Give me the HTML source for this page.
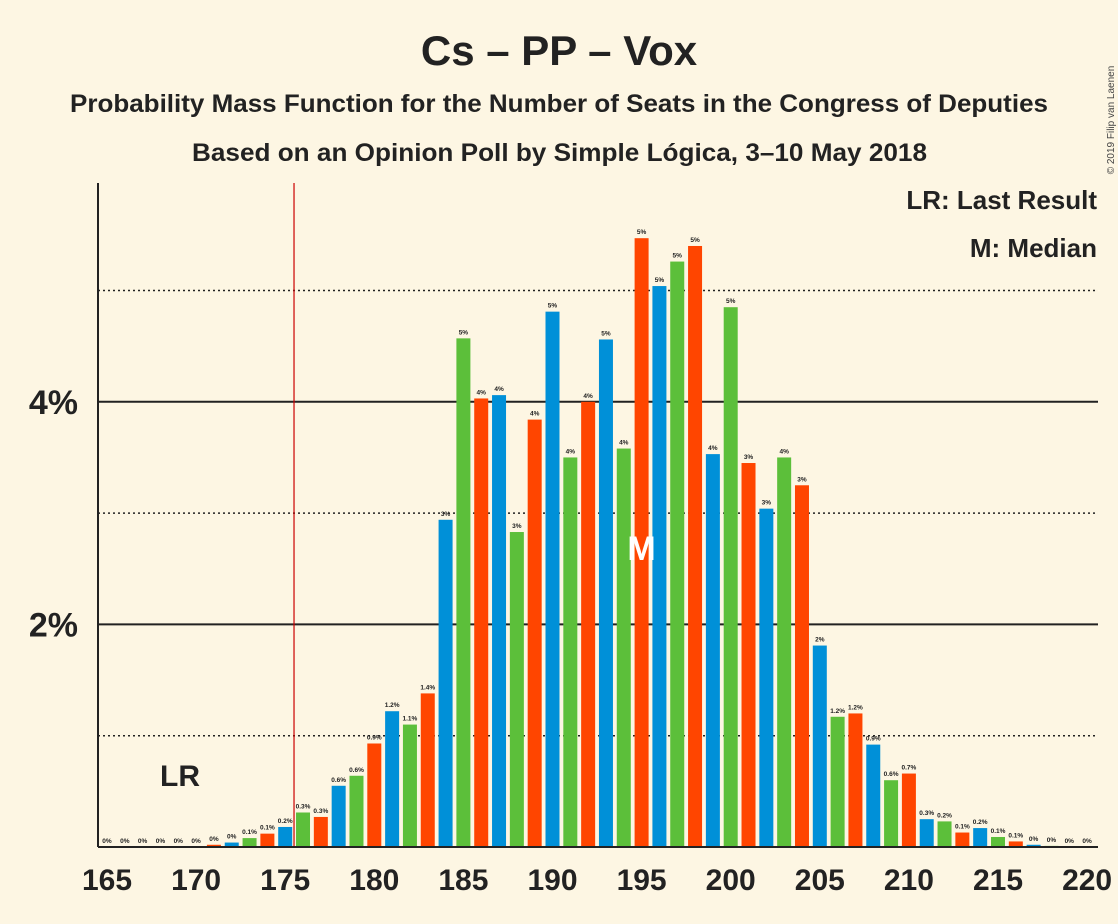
<!DOCTYPE html>
<html><head><meta charset="utf-8"><style>
body{margin:0;background:#fdf6e3;}
svg{display:block;font-family:"Liberation Sans",sans-serif;}
</style></head><body>
<svg width="1118" height="924" viewBox="0 0 1118 924" xmlns="http://www.w3.org/2000/svg">
<rect width="1118" height="924" fill="#fdf6e3"/>
<text x="559" y="65" text-anchor="middle" font-size="42" font-weight="bold" fill="#222">Cs – PP – Vox</text>
<text x="70" y="112" font-size="25" font-weight="bold" fill="#222" textLength="978" lengthAdjust="spacingAndGlyphs">Probability Mass Function for the Number of Seats in the Congress of Deputies</text>
<text x="192" y="161" font-size="25" font-weight="bold" fill="#222" textLength="735" lengthAdjust="spacingAndGlyphs">Based on an Opinion Poll by Simple Lógica, 3–10 May 2018</text>
<text transform="translate(1114,120) rotate(-90)" text-anchor="middle" font-size="10" fill="#444">© 2019 Filip van Laenen</text>
<g id="grid"></g>
<g id="bars"></g>
<g id="axes"></g>
<text x="1097" y="209" text-anchor="end" font-size="26" font-weight="bold" fill="#222">LR: Last Result</text>
<text x="1097" y="257" text-anchor="end" font-size="26" font-weight="bold" fill="#222">M: Median</text>
</svg>
<script>
const seats=[165,166,167,168,169,170,171,172,173,174,175,176,177,178,179,180,181,182,183,184,185,186,187,188,189,190,191,192,193,194,195,196,197,198,199,200,201,202,203,204,205,206,207,208,209,210,211,212,213,214,215,216,217,218,219,220];
const probs=[0,0,0,0,0,0,0.02,0.04,0.08,0.12,0.18,0.31,0.27,0.55,0.64,0.93,1.22,1.1,1.38,2.94,4.57,4.03,4.06,2.83,3.84,4.81,3.5,4.0,4.56,3.58,5.47,5.04,5.26,5.4,3.53,4.85,3.45,3.04,3.5,3.25,1.81,1.17,1.2,0.92,0.6,0.66,0.25,0.23,0.13,0.17,0.09,0.05,0.02,0.01,0,0];
const yTicks=[2,4];
const yDotted=[1,3,5];
const xTicks=[165,170,175,180,185,190,195,200,205,210,215,220];
const lastResult=176, median=195;
const NS="http://www.w3.org/2000/svg";
const X=s=>107+(s-165)*17.82;
const Y=v=>847-v*111.3;
const colors=["#ff4500","#0090d8","#5cbf3a"];
function mk(tag,attrs,parent){const e=document.createElementNS(NS,tag);for(const k in attrs)e.setAttribute(k,attrs[k]);parent.appendChild(e);return e;}
const grid=document.getElementById('grid'),bars=document.getElementById('bars'),axes=document.getElementById('axes');
yDotted.forEach(v=>{const l=mk('line',{x1:98,x2:1098,y1:Y(v),y2:Y(v),stroke:'#222','stroke-width':1.5,'stroke-dasharray':'2,3'},grid);

});
yTicks.forEach(v=>{const l=mk('line',{x1:98,x2:1098,y1:Y(v),y2:Y(v),stroke:'#222','stroke-width':2},grid);


const t=mk('text',{x:78,y:Y(v)+12,'text-anchor':'end','font-size':34,'font-weight':'bold',fill:'#222'},axes);t.textContent=v+'%';

});
seats.forEach((s,i)=>{const v=probs[i];const c=colors[s%3];
const r=mk('rect',{x:X(s)-7,y:Y(v),width:14,height:Math.max(0,847-Y(v)),fill:c},bars);


const lab=v<0.05?'0%':(v<1.5?v.toFixed(1)+'%':Math.round(v)+'%');
const t=mk('text',{x:X(s),y:Y(v)-4,'text-anchor':'middle','font-size':6.5,'font-weight':'bold',fill:'#222'},bars);t.textContent=lab;

});
const med=mk('text',{x:X(median),y:560,'text-anchor':'middle','font-size':34,'font-weight':'bold',fill:'#fff'},bars);med.textContent='M';


const lr=mk('line',{x1:X(lastResult)-9,x2:X(lastResult)-9,y1:183,y2:847,stroke:'#c00','stroke-width':1.2},axes);


const lrt=mk('text',{x:180,y:786,'text-anchor':'middle','font-size':30,'font-weight':'bold',fill:'#222'},axes);lrt.textContent='LR';


const ya=mk('line',{x1:98,x2:98,y1:183,y2:847,stroke:'#222','stroke-width':2},axes);


const xa=mk('line',{x1:98,x2:1098,y1:847,y2:847,stroke:'#222','stroke-width':2},axes);


xTicks.forEach(s=>{const t=mk('text',{x:X(s),y:890,'text-anchor':'middle','font-size':30,'font-weight':'bold',fill:'#222'},axes);t.textContent=s;

});
</script>
</body></html>
